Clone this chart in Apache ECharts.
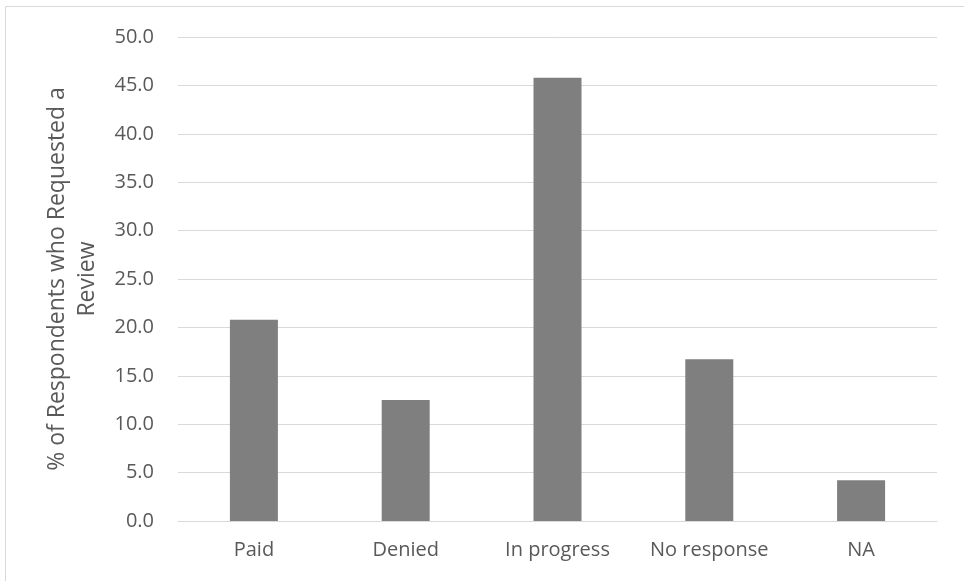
<!DOCTYPE html>
<html>
<head>
<meta charset="utf-8">
<script src="https://cdn.jsdelivr.net/npm/echarts@6/dist/echarts.min.js"></script>
<style>
  html, body { margin: 0; padding: 0; background: #fff; }
</style>
</head>
<body>

<div id="main" style="width: 964px;height:581px;"></div>

<script type="text/javascript">
    // data
    var categories = ['Paid', 'Denied', 'In progress', 'No response', 'NA'];
    var percentages = [20.8, 12.5, 45.8, 16.7, 4.2];
    var yAxisName = '% of Respondents who Requested a\nReview';

    var myChart = echarts.init(document.getElementById('main'));

    var textColor = '#595959';
    var fontFamily = '"Open Sans", "Liberation Sans", sans-serif';

    var option = {
        backgroundColor: '#fff',
        animation: false,
        // thin frame round the chart (only top/left edges fall inside the picture)
        graphic: [{
            type: 'rect',
            shape: { x: 5.5, y: 6.5, width: 1000, height: 1000 },
            style: { fill: 'none', stroke: '#d9d9d9', lineWidth: 1 }
        }],
        grid: {
            left: 178,
            right: 27,
            top: 37,
            bottom: 60
        },
        xAxis: {
            type: 'category',
            data: categories,
            axisLine: { show: true, lineStyle: { color: '#d9d9d9', width: 1 } },
            axisTick: { show: false },
            axisLabel: {
                interval: 0,
                color: textColor,
                fontSize: 20,
                fontFamily: fontFamily,
                margin: 19
            }
        },
        yAxis: {
            type: 'value',
            min: 0,
            max: 50,
            interval: 5,
            name: yAxisName,
            nameLocation: 'middle',
            nameGap: 76,
            nameTextStyle: {
                color: textColor,
                fontSize: 23,
                fontFamily: fontFamily,
                lineHeight: 30
            },
            axisLine: { show: false },
            axisTick: { show: false },
            splitLine: { lineStyle: { color: '#d9d9d9', width: 1 } },
            axisLabel: {
                color: textColor,
                fontSize: 20,
                fontFamily: fontFamily,
                margin: 24,
                formatter: function (v) { return v.toFixed(1); }
            }
        },
        series: [{
            type: 'bar',
            data: percentages,
            barWidth: 48,
            itemStyle: { color: '#7f7f7f' }
        }]
    };

    myChart.setOption(option);
</script>

</body>
</html>
